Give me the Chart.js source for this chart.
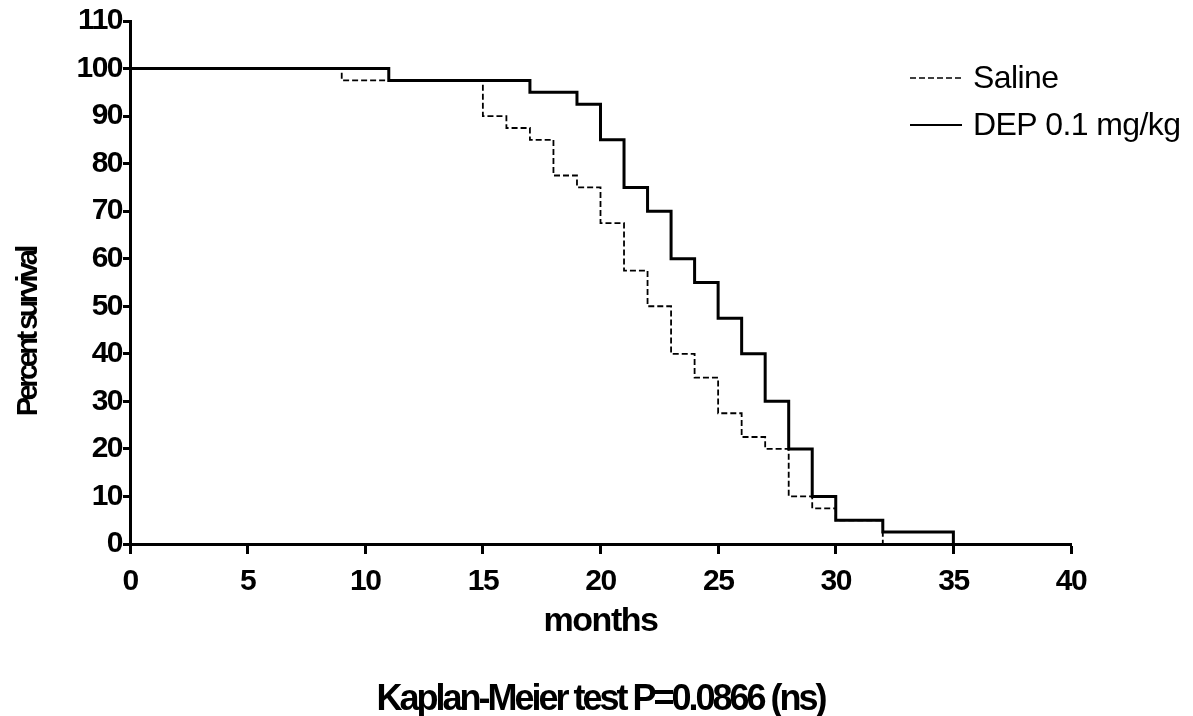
<!DOCTYPE html>
<html>
<head>
<meta charset="utf-8">
<title>Kaplan-Meier survival</title>
<script src="https://cdn.jsdelivr.net/npm/chart.js@4.4.1/dist/chart.umd.min.js"></script>
<style>
  html, body { margin: 0; padding: 0; background: #fff; }
</style>
</head>
<body>
<canvas id="survivalChart" width="1193" height="716"></canvas>
<script>
// survival curves (percent surviving after each month)
const salineLabel = 'Saline';
const salineMonths = [0, 9, 15, 16, 17, 18, 19, 20, 21, 22, 23, 24, 25, 26, 27, 28, 29, 30, 32];
const salineSurvival = [100, 97.5, 90, 87.5, 85, 77.5, 75, 67.5, 57.5, 50, 40, 35, 27.5, 22.5, 20, 10, 7.5, 5, 0];

const depLabel = 'DEP 0.1 mg/kg';
const depMonths = [0, 11, 17, 19, 20, 21, 22, 23, 24, 25, 26, 27, 28, 29, 30, 32, 35];
const depSurvival = [100, 97.5, 95, 92.5, 85, 75, 70, 60, 55, 47.5, 40, 30, 20, 10, 5, 2.5, 0];

const xTitle = 'months';
const yTitle = 'Percent survival';
const testText = 'Kaplan-Meier test P=0.0866 (ns)';

const FONT = '"Liberation Sans", Arial, sans-serif';

function toPoints(xs, ys) {
    return xs.map((x, i) => ({ x: x, y: ys[i] }));
}

// extra text: rotated y title, test result and the legend, drawn like Prism does
const prismText = {
    id: 'prismText',
    beforeDraw(chart) {
        chart.ctx.letterSpacing = '-1.5px';
    },
    afterDraw(chart) {
        const ctx = chart.ctx;
        const area = chart.chartArea;

        ctx.save();
        ctx.fillStyle = '#000';
        ctx.font = 'bold 29px ' + FONT;
        ctx.letterSpacing = '-3.5px';
        ctx.textAlign = 'center';
        ctx.textBaseline = 'middle';
        ctx.translate(29, area.top + (area.bottom - area.top) * 0.595);
        ctx.rotate(-Math.PI / 2);
        ctx.fillText(yTitle, 0, 0);
        ctx.restore();

        // test result under the axis title
        ctx.save();
        ctx.fillStyle = '#000';
        ctx.font = 'bold 36px ' + FONT;
        ctx.letterSpacing = '-3px';
        ctx.textAlign = 'center';
        ctx.textBaseline = 'middle';
        ctx.fillText(testText, (area.left + area.right) / 2, 700);
        ctx.restore();

        // legend, saline first
        const items = [chart.data.datasets[0], chart.data.datasets[1]];
        ctx.save();
        ctx.font = '32px ' + FONT;
        ctx.letterSpacing = '-0.6px';
        ctx.textAlign = 'left';
        ctx.textBaseline = 'middle';
        items.forEach((ds, i) => {
            const y = 78 + i * 47;
            ctx.beginPath();
            ctx.strokeStyle = ds.borderColor;
            ctx.lineWidth = i === 0 ? 1.5 : 2;
            ctx.setLineDash(ds.borderDash || []);
            ctx.moveTo(910, y);
            ctx.lineTo(962, y);
            ctx.stroke();
            ctx.setLineDash([]);
            ctx.fillStyle = '#000';
            ctx.fillText(ds.label, 973, y + 1);
        });
        ctx.restore();
    }
};

const ctx = document.getElementById('survivalChart');

new Chart(ctx, {
    type: 'line',
    data: {
        datasets: [
            {
                label: salineLabel,
                data: toPoints(salineMonths, salineSurvival),
                borderColor: '#000',
                borderWidth: 1.8,
                borderDash: [6, 3],
                stepped: 'before',
                pointRadius: 0,
                fill: false,
                clip: false,
                order: 1
            },
            {
                label: depLabel,
                data: toPoints(depMonths, depSurvival),
                borderColor: '#000',
                borderWidth: 3,
                stepped: 'before',
                pointRadius: 0,
                fill: false,
                clip: false,
                order: 0
            }
        ]
    },
    options: {
        responsive: false,
        animation: false,
        layout: {
            padding: { left: 0, right: 122, top: 21, bottom: 0 }
        },
        plugins: {
            legend: { display: false },
            tooltip: { enabled: false }
        },
        scales: {
            x: {
                type: 'linear',
                min: 0,
                max: 40,
                ticks: {
                    stepSize: 5,
                    color: '#000',
                    padding: 10,
                    maxRotation: 0,
                    font: { family: FONT, size: 30, weight: 'bold' }
                },
                grid: {
                    drawOnChartArea: false,
                    drawTicks: true,
                    tickLength: 10,
                    tickWidth: 3,
                    tickColor: '#000'
                },
                border: { display: true, color: '#000', width: 3 },
                title: {
                    display: true,
                    text: xTitle,
                    color: '#000',
                    font: { family: FONT, size: 34, weight: 'bold', lineHeight: 1.0 },
                    padding: { top: 0, bottom: 77 }
                },
                afterFit(scale) { scale.height = 172; }
            },
            y: {
                type: 'linear',
                min: 0,
                max: 110,
                ticks: {
                    stepSize: 10,
                    color: '#000',
                    padding: 1,
                    font: { family: FONT, size: 30, weight: 'bold' }
                },
                grid: {
                    drawOnChartArea: false,
                    drawTicks: true,
                    tickLength: 7,
                    tickWidth: 3,
                    tickColor: '#000'
                },
                border: { display: true, color: '#000', width: 3 },
                afterFit(scale) { scale.width = 130; }
            }
        }
    },
    plugins: [prismText]
});
</script>
</body>
</html>
